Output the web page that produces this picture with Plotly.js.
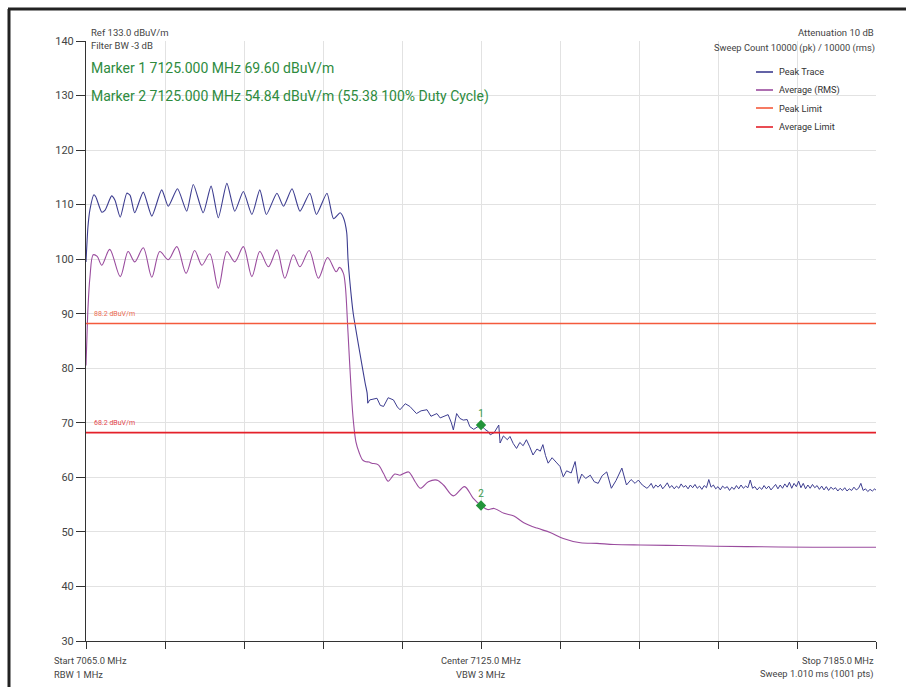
<!DOCTYPE html>
<html>
<head>
<meta charset="utf-8">
<script src="https://cdn.plot.ly/plotly-3.0.1.min.js"></script>
<style>html,body{margin:0;padding:0;background:#fff;}#chart{width:906px;height:687px;}</style>
</head>
<body>
<div id="chart"></div>
<script>
// ---- Data (frequency in MHz, level in dBuV/m) ----
const peakFreq = [
  7065.0,7065.3,7065.6,7066.2,7066.5,7067.4,7067.9,7068.9,7069.4,7070.2,
  7071.2,7071.7,7072.4,7073.7,7075.0,7076.5,7077.5,7078.9,7080.3,7081.3,
  7082.8,7084.0,7085.1,7086.4,7087.6,7088.9,7090.2,7091.4,7092.4,7094.0,
  7095.0,7096.3,7097.5,7099.0,7100.0,7101.6,7102.6,7103.6,7104.1,7104.6,
  7104.8,7105.4,7105.6,7106.6,7107.4,7107.7,7107.8,
  7108.1,7109.2,7109.7,7110.2,7110.9,7111.7,7112.3,7112.7,7113.5,7114.2,
  7114.7,7115.2,7115.9,7116.8,7117.4,7118.3,7118.8,7119.3,7120.0,7120.5,
  7120.8,7121.3,7121.8,7122.3,7122.9,7123.3,7123.9,7124.4,7125.0,7125.6,
  7126.1,7126.4,7127.0,7127.7,7127.9,7128.4,7129.0,7129.4,7129.9,7130.4,
  7130.9,7131.4,7131.9,7132.4,7132.9,7133.5,7134.0,7134.4,7134.8,7135.2,
  7135.8,7136.4,7137.0,7137.5,7138.0,7138.7,7139.3,7139.8,7140.3,7140.9,
  7141.6,7142.2,7142.8,7143.4,7144.1,7144.8,7145.5,7146.4,7147.1,7147.8,
  7148.4,7148.9,7149.5,7150.2,
  7150.50,7150.85,7151.20,7151.55,7151.90,7152.25,7152.60,7152.95,7153.30,7153.65,
  7154.00,7154.35,7154.70,7155.05,7155.40,7155.75,7156.10,7156.45,7156.80,7157.15,
  7157.50,7157.85,7158.20,7158.55,7158.90,7159.25,7159.60,7159.95,7160.30,7160.65,
  7161.00,7161.35,7161.70,7162.05,7162.40,7162.75,7163.10,7163.45,7163.80,7164.15,
  7164.50,7164.85,7165.20,7165.55,7165.90,7166.25,7166.60,7166.95,7167.30,7167.65,
  7168.00,7168.35,7168.70,7169.05,7169.40,7169.75,7170.10,7170.45,7170.80,7171.15,
  7171.50,7171.85,7172.20,7172.55,7172.90,7173.25,7173.60,7173.95,7174.30,7174.65,
  7175.00,7175.35,7175.70,7176.05,7176.40,7176.75,7177.10,7177.45,7177.80,7178.15,
  7178.50,7178.85,7179.20,7179.55,7179.90,7180.25,7180.60,7180.95,7181.30,7181.65,
  7182.00,7182.35,7182.70,7183.05,7183.40,7183.75,7184.10,7184.45,7184.80,7185.00
];
const peakLevel = [
  99.5,106.0,109.1,111.8,111.4,108.6,109.0,111.6,110.8,107.7,
  112.1,111.7,108.5,112.3,107.9,112.7,109.7,112.9,108.8,113.7,
  108.5,113.4,107.6,113.9,108.8,112.4,108.2,112.7,108.2,112.1,
  109.7,112.9,108.8,112.1,108.2,112.1,107.4,108.5,107.6,104.9,
  100.0,92.0,90.0,82.8,77.3,75.5,73.6,
  74.2,74.5,73.2,73.0,74.6,74.2,72.9,72.4,73.5,73.0,
  72.3,71.7,72.2,72.4,71.2,71.7,70.9,71.1,71.5,70.0,
  68.7,71.7,70.8,70.5,70.6,69.3,68.8,69.2,69.6,68.8,
  68.4,67.8,68.2,69.6,66.3,67.6,66.9,67.5,66.2,65.3,
  66.4,65.8,66.9,65.6,64.1,65.2,64.8,66.0,64.0,62.6,
  63.6,62.8,62.0,60.1,61.2,60.8,62.9,58.9,60.6,59.8,
  60.4,59.2,58.9,60.3,61.0,58.0,59.4,61.7,58.6,59.6,
  58.9,59.5,58.6,58.0,
  58.3,58.9,58.0,58.6,58.2,58.7,57.9,58.4,59.0,58.1,
  58.5,57.9,58.4,58.0,58.8,58.2,58.5,57.9,58.6,58.1,
  58.7,58.0,58.4,57.8,58.5,58.1,59.6,58.2,58.6,57.9,
  58.3,57.7,58.4,58.0,58.3,57.6,58.2,57.8,58.5,57.9,
  58.6,58.0,58.4,58.1,59.5,58.0,58.3,57.7,58.2,57.8,
  58.5,57.9,58.4,57.7,58.3,58.7,57.9,58.6,58.0,58.8,
  58.2,59.1,58.0,58.9,58.3,59.3,58.1,58.9,57.9,58.6,
  58.0,58.7,58.1,58.5,57.8,58.4,57.7,58.3,57.6,58.2,
  57.8,58.1,57.5,58.0,57.6,58.1,57.5,57.9,57.6,58.2,
  57.7,58.0,58.9,57.6,57.9,57.4,57.8,57.5,57.9,57.6
];
const avgFreq = [
  7065.0,7065.15,7065.3,7065.6,7066.1,7066.7,7067.4,7068.6,7070.2,7071.4,
  7072.4,7073.7,7075.0,7076.2,7077.5,7078.8,7080.2,7081.5,7082.6,7083.8,
  7085.1,7086.4,7087.6,7088.9,7090.2,7091.4,7092.7,7094.0,7095.2,7096.5,
  7097.5,7098.9,7100.3,7101.7,7103.0,7103.5,7104.1,7104.4,7104.8,7105.3,
  7105.6,7106.0,7106.5,7107.0,7107.4,7108.0,7108.4,7109.4,7110.2,7110.9,
  7111.9,7112.7,7114.0,7115.0,7115.8,7117.0,7118.3,7119.3,7120.8,7122.5,
  7123.8,7125.0,7126.0,7127.0,7128.5,7130.0,7131.5,7133.5,7135.5,7137.5,
  7140.1,7142.6,7145.2,7149.2,7155.2,7165.3,7175.4,7185.0
];
const avgLevel = [
  80.5,86.0,91.0,96.7,100.8,100.5,98.9,101.8,96.8,101.4,
  99.5,102.1,96.7,101.4,99.9,102.3,97.4,101.6,98.9,101.0,
  94.7,101.4,99.5,102.3,96.8,101.4,98.6,101.7,96.5,100.8,
  98.6,101.6,96.5,100.3,97.7,98.5,97.4,95.0,86.5,75.5,
  70.5,66.5,64.5,63.2,62.9,62.8,62.6,62.3,60.7,59.3,
  60.6,60.4,61.0,59.2,58.0,59.2,59.5,58.6,56.6,58.3,
  56.2,54.84,54.1,54.3,53.4,52.9,51.7,50.7,49.9,48.8,
  48.0,47.9,47.7,47.6,47.5,47.3,47.2,47.2
];
const limitFreq = [7065, 7185];
const peakLimit = [88.2, 88.2];
const avgLimit = [68.2, 68.2];
const markerFreq = [7125.0, 7125.0];
const markerLevel = [69.60, 54.84];
const markerLabels = ["1", "2"];
const yTicks = [30, 40, 50, 60, 70, 80, 90, 100, 110, 120, 130, 140];
const seriesNames = ["Peak Trace", "Average (RMS)", "Peak Limit", "Average Limit"];
const seriesColors = ["#3d3d90", "#9a4c9e", "#f45a3c", "#e4202a"];

// ---- Layout helpers (pixel -> paper) ----
const L = 86, R = 876, T = 41, B = 641;
const px = x => (x - L) / (R - L);
const py = y => (B - y) / (B - T);
const FONT = "Roboto, 'Noto Sans', sans-serif";

// the peak trace: smooth band region drawn as spline, noisy skirt drawn as raw line
const split = peakFreq.indexOf(7107.8);

const traces = [
  {x: peakFreq.slice(0, split + 1), y: peakLevel.slice(0, split + 1), name: seriesNames[0],
   type: 'scatter', mode: 'lines', showlegend: false,
   line: {color: seriesColors[0], width: 1.1, shape: 'spline', smoothing: 0.6}},
  {x: peakFreq.slice(split), y: peakLevel.slice(split), name: seriesNames[0],
   type: 'scatter', mode: 'lines', showlegend: false,
   line: {color: seriesColors[0], width: 1.0}},
  {x: avgFreq, y: avgLevel, name: seriesNames[1], type: 'scatter', mode: 'lines', showlegend: false,
   line: {color: seriesColors[1], width: 1.1, shape: 'spline', smoothing: 0.9}},
  {x: limitFreq, y: peakLimit, name: seriesNames[2], type: 'scatter', mode: 'lines', showlegend: false,
   line: {color: seriesColors[2], width: 1.6}},
  {x: limitFreq, y: avgLimit, name: seriesNames[3], type: 'scatter', mode: 'lines', showlegend: false,
   line: {color: seriesColors[3], width: 1.6}},
  {x: markerFreq, y: markerLevel, text: markerLabels, type: 'scatter', mode: 'markers+text',
   showlegend: false, textposition: 'top center',
   textfont: {family: FONT, size: 10, color: '#3a9a4a'},
   marker: {symbol: 'diamond', size: 8, color: '#22943a'}}
];

const ann = (text, x, y, xanchor, size, color) => ({
  text, x: px(x), y: py(y), xref: 'paper', yref: 'paper', xanchor, yanchor: 'middle',
  showarrow: false, font: {family: FONT, size, color}
});

const annotations = [
  ann('Ref 133.0 dBuV/m', 89, 33, 'left', 9.5, '#444'),
  ann('Filter BW -3 dB', 89, 46, 'left', 9.5, '#444'),
  ann('Marker 1 7125.000 MHz 69.60 dBuV/m', 89, 68, 'left', 14, '#2e8b3e'),
  ann('Marker 2 7125.000 MHz 54.84 dBuV/m (55.38 100% Duty Cycle)', 89, 96, 'left', 14, '#2e8b3e'),
  ann('Attenuation 10 dB', 876, 33, 'right', 9.5, '#444'),
  ann('Sweep Count 10000 (pk) / 10000 (rms)', 877, 48, 'right', 9.3, '#444'),
  ann('Start 7065.0 MHz', 52, 660, 'left', 9.3, '#444'),
  ann('RBW 1 MHz', 52, 674, 'left', 9.3, '#444'),
  ann('Center 7125.0 MHz', 481, 660, 'center', 9.3, '#444'),
  ann('VBW 3 MHz', 481, 674, 'center', 9.3, '#444'),
  ann('Stop 7185.0 MHz', 876, 660, 'right', 9.3, '#444'),
  ann('Sweep 1.010 ms (1001 pts)', 876, 674, 'right', 9.3, '#444'),
  {text: peakLimit[0].toFixed(1) + ' dBuV/m', x: 7065.9, y: peakLimit[0], xref: 'x', yref: 'y',
   xanchor: 'left', yanchor: 'bottom', yshift: 4, showarrow: false,
   font: {family: FONT, size: 7, color: '#ec6a52'}},
  {text: avgLimit[0].toFixed(1) + ' dBuV/m', x: 7065.9, y: avgLimit[0], xref: 'x', yref: 'y',
   xanchor: 'left', yanchor: 'bottom', yshift: 4, showarrow: false,
   font: {family: FONT, size: 7, color: '#e4444c'}}
];

const shapes = [
  {type: 'line', xref: 'paper', yref: 'paper', x0: px(9), x1: px(9), y0: py(9), y1: py(700),
   line: {color: '#222', width: 3}},
  {type: 'line', xref: 'paper', yref: 'paper', x0: px(8), x1: px(910), y0: py(9), y1: py(9),
   line: {color: '#222', width: 3}}
];

// custom legend (matches instrument layout: short line sample + label)
const legendRows = [72, 90, 108, 127];
seriesNames.forEach((name, i) => {
  shapes.push({type: 'line', xref: 'paper', yref: 'paper', x0: px(756), x1: px(773),
    y0: py(legendRows[i]), y1: py(legendRows[i]), line: {color: seriesColors[i], width: 1.6}});
  annotations.push(ann(name, 777, legendRows[i], 'left', 9.2, '#333'));
});

const layout = {
  width: 906, height: 687,
  margin: {l: L, r: 906 - R, t: T, b: 687 - B, pad: 0},
  paper_bgcolor: '#ffffff', plot_bgcolor: '#ffffff',
  font: {family: FONT, color: '#333'},
  showlegend: false,
  xaxis: {range: [7065, 7185], tick0: 7065, dtick: 12, showticklabels: false,
    ticks: 'outside', ticklen: 7, tickcolor: '#333', showline: true, linecolor: '#333',
    linewidth: 1, showgrid: true, gridcolor: '#e2e2e2', zeroline: false, fixedrange: true},
  yaxis: {range: [30, 140], tickvals: yTicks, ticks: 'outside', ticklen: 9, tickcolor: '#333',
    showline: true, linecolor: '#333', linewidth: 1, showgrid: true, gridcolor: '#e2e2e2',
    zeroline: false, tickfont: {family: FONT, size: 11, color: '#444'}, fixedrange: true},
  annotations, shapes
};

Plotly.newPlot('chart', traces, layout, {staticPlot: true, displayModeBar: false});
</script>
</body>
</html>
